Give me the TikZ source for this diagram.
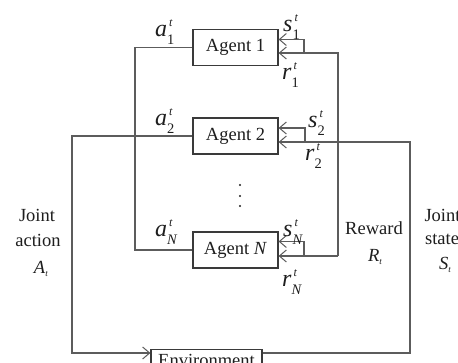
\documentclass[tikz,border=0pt]{standalone}
\usepackage{fontspec}
\setmainfont{Liberation Serif}
\usetikzlibrary{arrows.meta}

\definecolor{boxgray}{HTML}{3A3A3A}
\definecolor{wiregray}{HTML}{5C5C5C}
\definecolor{inkgray}{HTML}{1E1E1E}

% italic variable with superscript and subscript stacked after it
\newcommand\varlab[3]{\fontsize{24}{24}\selectfont\textit{#1}\makebox[0pt][l]{\raisebox{10.5pt}{\fontsize{12}{12}\selectfont\,\textit{#2}}}\raisebox{-8pt}{\fontsize{14.5}{14.5}\selectfont #3}}
% italic capital with a small subscript
\newcommand\capvar[2]{\textit{#1}\raisebox{-3pt}{\fontsize{9}{9}\selectfont\textit{#2}}}

\tikzset{
  agentbox/.style={draw=boxgray, line width=1.2pt, minimum width=85pt,
    minimum height=36pt, inner sep=0pt, text=inkgray,
    font=\fontsize{18.5}{18.5}\selectfont},
  wire/.style={draw=wiregray, line width=1.2pt},
  feed/.style={wire, -{Straight Barb[length=7pt,width=12pt,line width=1pt]}},
  caption/.style={font=\fontsize{18.5}{20}\selectfont, anchor=base,
    inner sep=0pt, text=inkgray},
  varnode/.style={anchor=base west, inner sep=0pt, text=inkgray},
}

\begin{document}
\begin{tikzpicture}[x=1pt,y=-1pt]
  \useasboundingbox (0,0) rectangle (458,363);
  \clip (0,0) rectangle (458,363);
  \fill[white] (0,0) rectangle (458,363);

  % agents and environment
  \node[agentbox] (ag1) at (235.5,47.5) {Agent 1};
  \node[agentbox] (ag2) at (235.5,136) {Agent 2};
  \node[agentbox] (agN) at (235.5,250) {Agent \textit{N}};
  \node[agentbox, minimum width=111pt, minimum height=0pt, anchor=north,
        text height=17pt, text depth=6pt] (env) at (206.5,349) {Environment};

  % vertical bus positions
  \coordinate (lb) at (135,0);
  \coordinate (ob) at (72,0);
  \coordinate (ib) at (338,0);
  \coordinate (rb) at (410,0);
  \coordinate (lp) at (304,0);
  \coordinate (lp2) at (305,0);

  % input points on the agents' right sides
  \path (ag1.east) ++(0,5.5) coordinate (ag1r) ++(0,-13.5) coordinate (ag1s);
  \path (ag2.east) ++(0,6) coordinate (ag2r) ++(0,-14) coordinate (ag2s);
  \path (agN.east) ++(0,6) coordinate (agNr) ++(0,-14.5) coordinate (agNs);
  \path (env.north west) ++(0,4) coordinate (envin);
  \path (env.north east) ++(0,4) coordinate (envout);

  % actions
  \draw[wire] (ag1.west) -| (lb |- agN.west) -- (agN.west);
  \draw[feed] (ag2.west) -| (ob |- envin) -- (envin);

  % joint state back to agent 2
  \draw[feed] (envout) -| (rb |- ag2r) -- (ag2r);
  \draw[feed] (lp2 |- ag2r) |- (ag2s);

  % reward bus for agents 1 and N
  \draw[feed] (ib |- agNr) |- (ag1r);
  \draw[feed] (ib |- agNr) -- (agNr);
  \draw[feed] (lp |- ag1r) |- (ag1s);
  \draw[feed] (lp |- agNr) |- (agNs);

  % vertical ellipsis between agents
  \foreach \yy in {185,196,206}
    \fill[inkgray] (240,\yy) circle (1.1);

  % variable labels
  \node[varnode] (la1) at (155,37) {\varlab{a}{t}{1}};
  \node[varnode] (la2) at (155,126) {\varlab{a}{t}{2}};
  \node[varnode] (laN) at (155,237) {\varlab{a}{t}{\textit{N}}};
  \node[varnode] (ls1) at (283,32) {\varlab{s}{t}{1}};
  \node[varnode] (lr1) at (282,80) {\varlab{r}{t}{1}};
  \node[varnode] (ls2) at (308,128) {\varlab{s}{t}{2}};
  \node[varnode] (lr2) at (305,161) {\varlab{r}{t}{2}};
  \node[varnode] (lsN) at (283,237) {\varlab{s}{t}{\textit{N}}};
  \node[varnode] (lrN) at (282,287) {\varlab{r}{t}{\textit{N}}};

  % side captions
  \node[caption] (ja1) at (37,222) {Joint};
  \node[caption] (ja2) at (38,247) {action};
  \node[caption] (ja3) at (41,274) {\capvar{A}{t}};
  \node[caption] (rw1) at (374,235) {Reward};
  \node[caption] (rw2) at (375,262) {\capvar{R}{t}};
  \node[caption] (js1) at (442.5,222) {Joint};
  \node[caption] (js2) at (442,245) {state};
  \node[caption] (js3) at (445,270) {\capvar{S}{t}};
\end{tikzpicture}
\end{document}
